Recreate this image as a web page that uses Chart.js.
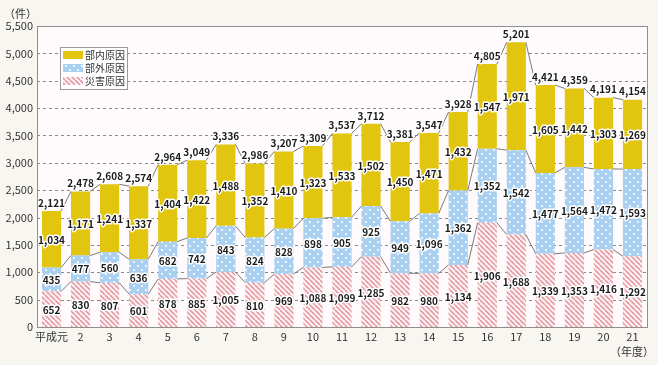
<!DOCTYPE html>
<html lang="ja">
<head>
<meta charset="UTF-8">
<title>原因別件数の推移</title>
<script src="https://cdn.jsdelivr.net/npm/chart.js"></script>
<style>
  html, body { margin: 0; padding: 0; background: #f8f6f1; }
  #wrap { position: relative; width: 658px; height: 365px; }
</style>
</head>
<body>
<div id="wrap"><canvas id="grafico" width="658" height="365"></canvas></div>
<script>
// 年度
const years = ['平成元','2','3','4','5','6','7','8','9','10','11','12','13','14','15','16','17','18','19','20','21'];
// 災害原因
const saigai = [652, 830, 807, 601, 878, 885, 1005, 810, 969, 1088, 1099, 1285, 982, 980, 1134, 1906, 1688, 1339, 1353, 1416, 1292];
// 部外原因
const bugai = [435, 477, 560, 636, 682, 742, 843, 824, 828, 898, 905, 925, 949, 1096, 1362, 1352, 1542, 1477, 1564, 1472, 1593];
// 部内原因
const bunai = [1034, 1171, 1241, 1337, 1404, 1422, 1488, 1352, 1410, 1323, 1533, 1502, 1450, 1471, 1432, 1547, 1971, 1605, 1442, 1303, 1269];
const yMax = 5500;
const yStep = 500;

const FONT = '"Noto Sans CJK JP", "Noto Sans", sans-serif';

function fmt(v) { return v.toLocaleString('en-US'); }

// パターン
function dotPattern() {
  const c = document.createElement('canvas');
  c.width = 8; c.height = 8;
  const g = c.getContext('2d');
  g.fillStyle = '#a9d0f1';
  g.fillRect(0, 0, 8, 8);
  g.fillStyle = '#ffffff';
  g.beginPath(); g.arc(2, 2, 1.1, 0, Math.PI * 2); g.fill();
  g.beginPath(); g.arc(6, 6, 1.1, 0, Math.PI * 2); g.fill();
  return g.createPattern(c, 'repeat');
}
function stripePattern() {
  const c = document.createElement('canvas');
  c.width = 5; c.height = 5;
  const g = c.getContext('2d');
  g.fillStyle = '#fdf4f5';
  g.fillRect(0, 0, 5, 5);
  g.strokeStyle = '#e49aa3';
  g.lineWidth = 1.6;
  for (let k = -5; k <= 5; k += 5) {
    g.beginPath(); g.moveTo(k, 0); g.lineTo(k + 5, 5); g.stroke();
  }
  return g.createPattern(c, 'repeat');
}

const colBunai = '#e2c50f';
const colBugai = dotPattern();
const colSaigai = stripePattern();

// 背景・目盛線・枠
const framePlugin = {
  id: 'frame',
  beforeDatasetsDraw(chart) {
    const { ctx, chartArea: a } = chart;
    const y = chart.scales.y;
    ctx.save();
    ctx.fillStyle = '#fffbfd';
    ctx.fillRect(a.left, a.top, a.right - a.left, a.bottom - a.top);
    ctx.strokeStyle = '#8a8a8a';
    ctx.lineWidth = 1;
    ctx.setLineDash([3, 3]);
    for (let v = yStep; v < yMax; v += yStep) {
      const py = Math.round(y.getPixelForValue(v)) + 0.5;
      ctx.beginPath();
      ctx.moveTo(a.left, py);
      ctx.lineTo(a.right, py);
      ctx.stroke();
    }
    ctx.restore();
  },
  afterDraw(chart) {
    const { ctx, chartArea: a } = chart;
    ctx.save();
    ctx.strokeStyle = '#8f8f8f';
    ctx.lineWidth = 1;
    ctx.strokeRect(Math.round(a.left) + 0.5, Math.round(a.top) + 0.5, Math.round(a.right - a.left), Math.round(a.bottom - a.top));
    ctx.fillStyle = '#333';
    ctx.font = '11px ' + FONT;
    ctx.textAlign = 'left';
    ctx.textBaseline = 'middle';
    ctx.fillText('（件）', 4, 14);
    ctx.textAlign = 'center';
    ctx.fillText('（年度）', 632, 352);
    ctx.restore();
  }
};

// 区分線
const seriesLinesPlugin = {
  id: 'seriesLines',
  afterDatasetsDraw(chart) {
    const { ctx } = chart;
    ctx.save();
    ctx.strokeStyle = '#7a7a7a';
    ctx.lineWidth = 1;
    chart.data.datasets.forEach((ds, d) => {
      const meta = chart.getDatasetMeta(d);
      for (let i = 0; i < meta.data.length - 1; i++) {
        const a = meta.data[i], b = meta.data[i + 1];
        ctx.beginPath();
        ctx.moveTo(a.x + a.width / 2, a.y);
        ctx.lineTo(b.x - b.width / 2, b.y);
        ctx.stroke();
      }
    });
    ctx.restore();
  }
};

// 数値ラベル
function haloText(ctx, txt, x, y) {
  ctx.strokeStyle = '#ffffff';
  ctx.lineWidth = 3;
  ctx.lineJoin = 'round';
  ctx.strokeText(txt, x, y);
  ctx.fillStyle = '#1a1a1a';
  ctx.fillText(txt, x, y);
}
const labelsPlugin = {
  id: 'labels',
  afterDatasetsDraw(chart) {
    const { ctx } = chart;
    ctx.save();
    ctx.font = 'bold 10px ' + FONT;
    ctx.textAlign = 'center';
    ctx.textBaseline = 'middle';
    chart.data.datasets.forEach((ds, d) => {
      const meta = chart.getDatasetMeta(d);
      meta.data.forEach((el, i) => {
        haloText(ctx, fmt(ds.data[i]), el.x, (el.y + el.base) / 2 + 1);
      });
    });
    const top = chart.getDatasetMeta(chart.data.datasets.length - 1);
    top.data.forEach((el, i) => {
      const total = saigai[i] + bugai[i] + bunai[i];
      haloText(ctx, fmt(total), el.x, el.y - 8);
    });
    ctx.restore();
  }
};

// 凡例
const legendPlugin = {
  id: 'boxLegend',
  afterDraw(chart) {
    const { ctx } = chart;
    const x0 = 60, y0 = 47, w = 67, h = 42;
    ctx.save();
    ctx.fillStyle = '#ffffff';
    ctx.fillRect(x0, y0, w, h);
    ctx.strokeStyle = '#9a9a9a';
    ctx.lineWidth = 1;
    ctx.strokeRect(x0 + 0.5, y0 + 0.5, w, h);
    const items = [
      { label: '部内原因', fill: colBunai },
      { label: '部外原因', fill: colBugai },
      { label: '災害原因', fill: colSaigai }
    ];
    ctx.font = '10px ' + FONT;
    ctx.textAlign = 'left';
    ctx.textBaseline = 'middle';
    items.forEach((it, k) => {
      const cy = y0 + 8 + k * 13;
      ctx.fillStyle = it.fill;
      ctx.fillRect(x0 + 3, cy - 4, 20, 8);
      ctx.fillStyle = '#333';
      ctx.fillText(it.label, x0 + 25, cy);
    });
    ctx.restore();
  }
};

const ctx = document.getElementById('grafico').getContext('2d');
new Chart(ctx, {
  type: 'bar',
  data: {
    labels: years,
    datasets: [
      { label: '災害原因', data: saigai, backgroundColor: colSaigai },
      { label: '部外原因', data: bugai, backgroundColor: colBugai },
      { label: '部内原因', data: bunai, backgroundColor: colBunai }
    ]
  },
  options: {
    responsive: false,
    animation: false,
    devicePixelRatio: 1,
    layout: { padding: { left: 0, right: 11, top: 26, bottom: 0 } },
    datasets: { bar: { barPercentage: 0.66, categoryPercentage: 1.0 } },
    plugins: {
      legend: { display: false },
      tooltip: { enabled: false }
    },
    scales: {
      x: {
        stacked: true,
        grid: { display: false, drawTicks: false },
        border: { display: false },
        ticks: { color: '#333', font: { family: FONT, size: 11 }, padding: 3, maxRotation: 0, autoSkip: false },
        afterFit(s) { s.height = 38; }
      },
      y: {
        stacked: true,
        min: 0,
        max: yMax,
        grid: { display: false, drawTicks: false },
        border: { display: false },
        ticks: { stepSize: yStep, color: '#333', font: { family: FONT, size: 11 }, padding: 4, callback: v => fmt(v) },
        afterFit(s) { s.width = 37; }
      }
    }
  },
  plugins: [framePlugin, seriesLinesPlugin, labelsPlugin, legendPlugin]
});
</script>
</body>
</html>
